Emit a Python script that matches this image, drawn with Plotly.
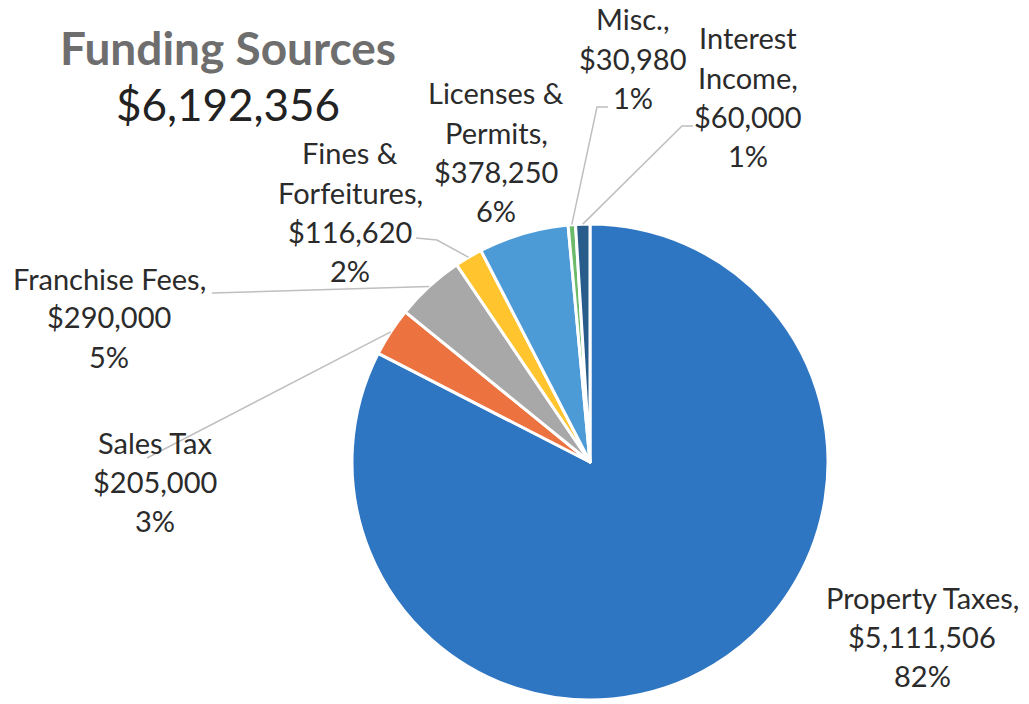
import numpy as np
import plotly.graph_objects as go

# Funding sources, in the order the slices run clockwise from 12 o'clock
sources = ["Property Taxes", "Sales Tax", "Franchise Fees", "Fines & Forfeitures",
           "Licenses & Permits", "Misc.", "Interest Income"]
amounts = [5111506, 205000, 290000, 116620, 378250, 30980, 60000]
pct_labels = ["82%", "3%", "5%", "2%", "6%", "1%", "1%"]
name_lines = [["Property Taxes,"], ["Sales Tax"], ["Franchise Fees,"],
              ["Fines &", "Forfeitures,"], ["Licenses &", "Permits,"],
              ["Misc.,"], ["Interest", "Income,"]]
colors = ["#2E75C2", "#EC7240", "#A8A8A8", "#FFC42E", "#4D9BD6", "#6DBA6A", "#285C8A"]

W, H = 1029, 704
CX, CY, R = 590, 462, 238          # pie centre and radius in page pixels
FONT = "Lato, 'Open Sans', sans-serif"
LINE_H = 39                        # spacing between label lines, px


def px(x, y):
    """Page pixel (from top-left) -> paper coordinates."""
    return x / W, 1 - y / H


fig = go.Figure(go.Pie(
    labels=sources,
    values=amounts,
    sort=False,
    direction="clockwise",
    rotation=0,
    marker=dict(colors=colors, line=dict(color="white", width=3)),
    textinfo="none",
    hoverinfo="label+value+percent",
    showlegend=False,
    domain=dict(x=[(CX - R) / W, (CX + R) / W],
                y=[(H - CY - R) / H, (H - CY + R) / H]),
))

# Slice mid-angles (clockwise from top) derived from the amounts
vals = np.array(amounts, dtype=float)
cum = np.concatenate([[0], np.cumsum(vals)]) / vals.sum() * 2 * np.pi
mid = (cum[:-1] + cum[1:]) / 2
edge = [(CX + R * np.sin(a), CY - R * np.cos(a)) for a in mid]

# Label block placement: centre x and y of the first line (px)
label_pos = {
    "Property Taxes": (922, 597),
    "Sales Tax": (155, 442),
    "Franchise Fees": (109, 278),
    "Fines & Forfeitures": (350, 153),
    "Licenses & Permits": (496, 93),
    "Misc.": (633, 19),
    "Interest Income": (748, 38),
}

annotations = []
for name, amt, pct, nl in zip(sources, amounts, pct_labels, name_lines):
    lines = nl + [f"${amt:,}", pct]
    lx, ly = label_pos[name]
    for k, t in enumerate(lines):
        x, y = px(lx, ly + k * LINE_H)
        annotations.append(dict(x=x, y=y, xref="paper", yref="paper", text=t,
                                showarrow=False, xanchor="center", yanchor="middle",
                                font=dict(family=FONT, size=29, color="#2b2b2b")))

# Leader lines: label-side points (px), ending at the slice's outer edge
leader_start = {
    "Sales Tax": [(147, 458)],
    "Franchise Fees": [(212, 293)],
    "Fines & Forfeitures": [(416, 238), (437, 240)],
    "Misc.": [(608, 107), (597, 107)],
    "Interest Income": [(693, 126), (682, 126)],
}
shapes = []
for i, name in enumerate(sources):
    if name not in leader_start:
        continue
    pts = leader_start[name] + [edge[i]]
    path = "M " + " L ".join(f"{px(x, y)[0]:.5f},{px(x, y)[1]:.5f}" for x, y in pts)
    shapes.append(dict(type="path", path=path, xref="paper", yref="paper",
                       line=dict(color="#bfbfbf", width=1.5)))

# Title and total
tx, ty = px(228, 48)
annotations.append(dict(x=tx, y=ty, xref="paper", yref="paper", text="<b>Funding Sources</b>",
                        showarrow=False, xanchor="center", yanchor="middle",
                        font=dict(family=FONT, size=46, color="#6e6e6e")))
total = sum(amounts)
tx, ty = px(228, 104)
annotations.append(dict(x=tx, y=ty, xref="paper", yref="paper", text=f"${total:,}",
                        showarrow=False, xanchor="center", yanchor="middle",
                        font=dict(family=FONT, size=44, color="#222222")))

fig.update_layout(
    width=W, height=H,
    margin=dict(l=0, r=0, t=0, b=0),
    paper_bgcolor="white",
    plot_bgcolor="white",
    annotations=annotations,
    shapes=shapes,
)

fig.write_html("out.html")
